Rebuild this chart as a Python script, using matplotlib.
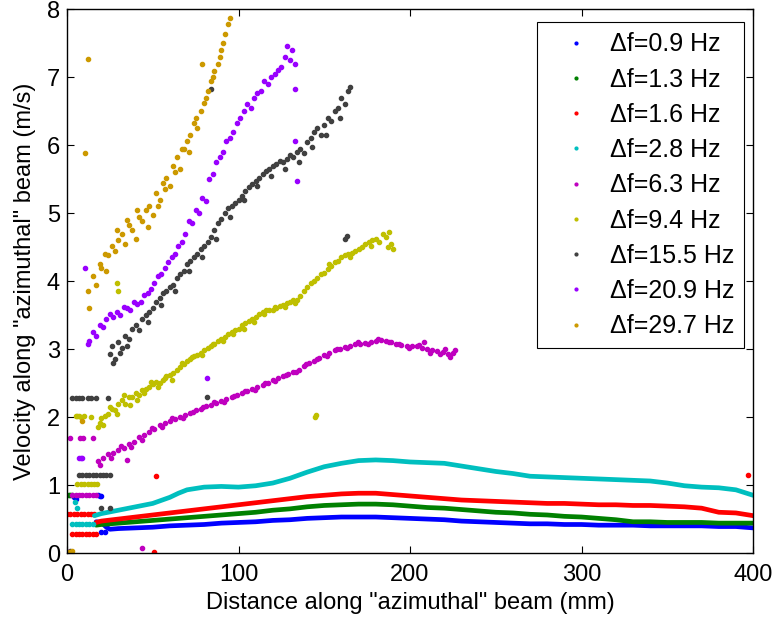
import numpy as np
import matplotlib
matplotlib.use("Agg")
import matplotlib.pyplot as plt

plt.rcParams['font.family'] = ['Liberation Sans', 'DejaVu Sans']

# ---- smooth low-frequency curves (mm, m/s) ----
b_x = [17, 20, 23, 25, 30, 40, 50, 60, 70, 80, 90, 100, 110, 120, 130, 140, 150, 160, 170, 180,
       190, 200, 210, 220, 230, 240, 250, 260, 270, 280, 290, 300, 310, 320, 330, 340, 350, 360,
       370, 380, 390, 400]
b_y = [0.46, 0.45, 0.38, 0.35, 0.36, 0.37, 0.38, 0.40, 0.41, 0.42, 0.44, 0.45, 0.46, 0.48, 0.49,
       0.51, 0.52, 0.53, 0.53, 0.53, 0.52, 0.51, 0.50, 0.49, 0.47, 0.46, 0.45, 0.44, 0.43, 0.43,
       0.42, 0.42, 0.41, 0.41, 0.41, 0.40, 0.40, 0.40, 0.40, 0.39, 0.39, 0.37]
b_px = [4, 5, 18, 19, 20, 20, 22]
b_py = [0.82, 0.80, 0.85, 0.84, 0.84, 0.31, 0.31]

g_x = [17, 20, 30, 40, 50, 60, 70, 80, 90, 100, 110, 120, 130, 140, 150, 160, 170, 180, 190,
       200, 210, 220, 230, 240, 250, 260, 270, 280, 290, 300, 310, 320, 330, 340, 350, 360, 370,
       380, 390, 400]
g_y = [0.41, 0.42, 0.44, 0.46, 0.48, 0.50, 0.52, 0.54, 0.56, 0.58, 0.60, 0.63, 0.65, 0.68, 0.70,
       0.71, 0.72, 0.72, 0.71, 0.69, 0.67, 0.66, 0.64, 0.62, 0.60, 0.59, 0.57, 0.56, 0.54, 0.53,
       0.51, 0.49, 0.46, 0.46, 0.45, 0.45, 0.45, 0.44, 0.44, 0.44]
g_px = [0, 1, 2, 3]
g_py = [0.85, 0.85, 0.85, 0.85]

r_x = [17, 20, 30, 40, 50, 60, 70, 80, 90, 100, 110, 120, 130, 140, 150, 160, 170, 180, 190,
       200, 210, 220, 230, 240, 250, 260, 270, 280, 290, 300, 310, 320, 330, 340, 350, 360, 370,
       380, 390, 400]
r_y = [0.45, 0.47, 0.50, 0.53, 0.56, 0.59, 0.62, 0.65, 0.68, 0.71, 0.74, 0.77, 0.80, 0.83, 0.85,
       0.87, 0.88, 0.88, 0.86, 0.84, 0.82, 0.80, 0.78, 0.77, 0.76, 0.75, 0.74, 0.73, 0.73, 0.72,
       0.71, 0.71, 0.70, 0.70, 0.69, 0.68, 0.66, 0.60, 0.59, 0.55]
r_px = [0, 2, 4, 6, 8, 10, 12, 14, 16, 3, 5, 7, 9, 11, 13, 15, 17, 52, 51, 397]
r_py = [0.57, 0.57, 0.57, 0.57, 0.57, 0.57, 0.57, 0.57, 0.57, 0.28, 0.28, 0.28, 0.28, 0.28,
        0.28, 0.28, 0.28, 1.14, 0.01, 1.15]

c_x = [16, 20, 30, 40, 50, 60, 65, 70, 80, 90, 100, 110, 120, 130, 140, 150, 160, 170, 180,
       190, 200, 210, 220, 230, 240, 250, 260, 270, 280, 290, 300, 310, 320, 330, 340, 350, 360,
       370, 380, 390, 400]
c_y = [0.55, 0.58, 0.63, 0.68, 0.73, 0.82, 0.88, 0.93, 0.97, 0.98, 0.97, 0.99, 1.03, 1.10, 1.19,
       1.27, 1.32, 1.36, 1.37, 1.36, 1.34, 1.33, 1.32, 1.28, 1.24, 1.20, 1.17, 1.13, 1.12, 1.11,
       1.10, 1.09, 1.08, 1.07, 1.06, 1.03, 0.99, 0.97, 0.96, 0.93, 0.85]
c_px = [3, 5, 7, 9, 11, 13, 15, 4.7, 5.8]
c_py = [0.43, 0.43, 0.43, 0.43, 0.43, 0.43, 0.43, 0.75, 0.66]

# ---- scattered higher-frequency series ----
m_x = [18, 21, 24, 27, 30, 33, 36, 39, 42, 45, 48, 51, 54, 57, 60, 63, 66, 69, 72, 75, 78, 81,
       84, 87, 90, 93, 96, 99, 102, 105, 108, 111, 114, 117, 120, 123, 126, 129, 132, 135, 138,
       141, 144, 147, 150, 153, 156, 159, 162, 165, 168, 171, 174, 177, 180, 183, 186, 189, 192,
       195, 198, 201, 204, 207, 210, 213, 216, 219, 222, 225,
       19.5, 25.5, 31.5, 37.5, 43.5, 49.5, 55.5, 61.5, 67.5, 73.5, 79.5, 85.5, 91.5, 97.5, 103.5,
       109.5, 115.5, 121.5, 127.5, 133.5, 139.5, 145.5, 151.5, 157.5, 163.5, 169.5, 175.5, 181.5,
       187.5, 193.5, 199.5, 205.5, 211.5, 217.5, 220.5, 223.5, 208, 226,
       3, 5, 7, 9, 11, 13, 15, 17, 1.7, 7.6, 9.3, 15, 35, 44]
m_y = [1.35, 1.40, 1.45, 1.47, 1.52, 1.55, 1.60, 1.63, 1.70, 1.74, 1.78, 1.83, 1.88, 1.91, 1.94,
       1.97, 2.00, 2.03, 2.06, 2.10, 2.12, 2.16, 2.18, 2.21, 2.24, 2.27, 2.30, 2.33, 2.35, 2.38,
       2.41, 2.44, 2.47, 2.50, 2.54, 2.57, 2.60, 2.63, 2.67, 2.70, 2.75, 2.79, 2.83, 2.87, 2.91,
       2.95, 2.98, 3.00, 3.03, 3.05, 3.07, 3.08, 3.09, 3.11, 3.12, 3.13, 3.12, 3.10, 3.07, 3.06,
       3.05, 3.05, 3.04, 3.02, 3.00, 2.98, 2.97, 2.96, 2.93, 2.95,
       1.30, 1.40, 1.58, 1.56, 1.66, 1.84, 1.85, 1.98, 1.98, 2.08, 2.15, 2.22, 2.22, 2.31, 2.38,
       2.40, 2.50, 2.53, 2.62, 2.66, 2.78, 2.85, 2.90, 3.00, 3.02, 3.10, 3.07, 3.15, 3.10, 3.08,
       3.02, 3.06, 2.95, 2.93, 3.00, 2.88, 3.10, 2.98,
       0.85, 0.85, 0.85, 0.85, 0.85, 0.85, 0.85, 0.85, 1.69, 1.69, 1.69, 1.69, 1.37, 0.07]

y_x = [18, 19, 20, 22, 24, 26, 28, 30, 32, 34, 36, 38, 40, 42, 44, 46, 48, 50, 52, 54, 56, 58,
       60, 62, 64, 66, 68, 70, 72, 74, 76, 78, 80, 82, 84, 86, 88, 90, 92, 94, 96, 98, 100, 102,
       104, 106, 108, 110, 112, 114, 116, 118, 120, 122, 124, 126, 128, 130, 132, 134, 136, 138,
       140, 142, 144, 146, 148, 150, 152, 154, 156, 158, 160, 162, 164, 166, 168, 170, 172, 174,
       176, 178, 180, 182, 184, 186, 187, 188, 189, 190,
       21, 25, 29, 33, 37, 41, 45, 49, 53, 57, 61, 67, 73, 79, 85, 91, 97, 103, 109, 115, 121,
       127, 133, 153, 165, 177,
       5, 6, 7, 8, 10, 14, 6, 8, 10, 12, 14, 16, 17.5, 29, 30, 144.5, 145]
y_y = [1.85, 1.92, 1.98, 2.02, 2.05, 2.12, 2.10, 2.20, 2.25, 2.20, 2.29, 2.30, 2.35, 2.33, 2.40,
       2.42, 2.45, 2.48, 2.52, 2.50, 2.54, 2.60, 2.62, 2.65, 2.70, 2.73, 2.78, 2.82, 2.85, 2.90,
       2.92, 2.95, 2.98, 3.01, 3.05, 3.08, 3.12, 3.15, 3.18, 3.22, 3.25, 3.28, 3.30, 3.35, 3.38,
       3.42, 3.45, 3.47, 3.52, 3.55, 3.57, 3.58, 3.57, 3.60, 3.63, 3.65, 3.68, 3.70, 3.72, 3.72,
       3.78, 3.85, 3.91, 3.97, 4.00, 4.05, 4.10, 4.12, 4.18, 4.22, 4.28, 4.30, 4.35, 4.38, 4.40,
       4.42, 4.45, 4.48, 4.50, 4.55, 4.58, 4.60, 4.62, 4.58, 4.70, 4.65, 4.50, 4.72, 4.55, 4.48,
       1.88, 2.15, 2.05, 2.32, 2.18, 2.25, 2.35, 2.52, 2.45, 2.58, 2.55, 2.80, 2.88, 2.92, 3.08,
       3.12, 3.22, 3.30, 3.40, 3.52, 3.62, 3.62, 3.68, 4.25, 4.35, 4.52,
       2.01, 2.01, 2.01, 2.00, 2.01, 2.00, 1.01, 1.01, 1.01, 1.01, 1.01, 1.01, 1.01, 3.98, 3.85,
       2.00, 2.03]

k_x = [25, 26, 28, 30, 32, 34, 36, 38, 40, 42, 44, 46, 48, 50, 52, 54, 56, 58, 60, 62, 64, 66,
       68, 70, 72, 74, 76, 78, 80, 82, 84, 86, 88, 90, 92, 94, 96, 98, 100, 102, 104, 106, 108,
       110, 112, 114, 116, 118, 120, 122, 124, 126, 128, 130, 132, 134, 136, 138, 140, 142, 144,
       146, 148, 150, 152, 154, 156, 158, 160, 162, 164, 165,
       27, 31, 35, 47, 55, 63, 71, 79, 87, 95, 103, 111, 119, 127, 135, 143, 151, 159,
       3, 5, 7, 9, 12, 14, 17, 24, 7, 9, 11, 13, 15, 17, 19, 21, 23, 25, 20, 25, 2,
       81.5, 162, 163, 84]
k_y = [2.93, 3.05, 2.85, 3.10, 3.02, 3.20, 3.15, 3.30, 3.35, 3.28, 3.45, 3.50, 3.55, 3.61, 3.70,
       3.75, 3.82, 3.85, 3.91, 3.95, 4.05, 4.10, 4.15, 4.25, 4.30, 4.35, 4.40, 4.48, 4.52, 4.58,
       4.65, 4.75, 4.85, 4.92, 5.00, 5.08, 5.10, 5.15, 5.20, 5.25, 5.32, 5.38, 5.43, 5.48, 5.52,
       5.58, 5.62, 5.65, 5.70, 5.72, 5.77, 5.75, 5.80, 5.85, 5.82, 5.90, 5.95, 5.88, 6.05, 6.10,
       6.20, 6.26, 6.15, 6.30, 6.40, 6.35, 6.50, 6.55, 6.70, 6.60, 6.80, 6.85,
       2.80, 2.95, 3.05, 3.40, 3.65, 3.85, 4.15, 4.35, 4.62, 4.95, 5.20, 5.40, 5.55, 5.65, 5.75,
       5.98, 6.15, 6.40,
       2.28, 2.28, 2.28, 2.28, 2.28, 2.28, 2.28, 2.28, 1.15, 1.15, 1.15, 1.15, 1.15, 1.15, 1.15,
       1.15, 1.15, 1.15, 0.66, 0.66, 0.03,
       2.29, 4.62, 4.66, 6.83]

p_x = [12, 13, 15, 17, 19, 21, 23, 25, 27, 29, 31, 33, 35, 37, 39, 41, 43, 45, 47, 49, 51, 53,
       55, 57, 59, 61, 63, 65, 67, 69, 71, 73, 75, 77, 79, 81, 83, 85, 87, 89, 91, 93, 95, 97,
       99, 101, 103, 105, 107, 109, 111, 113, 115, 117, 119, 121, 123, 125, 127, 128, 130, 131,
       133,
       10.5, 133, 134, 133, 81.5, 7, 8, 9, 0.5]
p_y = [3.08, 3.12, 3.25, 3.20, 3.35, 3.32, 3.45, 3.52, 3.47, 3.55, 3.50, 3.62, 3.61, 3.58, 3.70,
       3.67, 3.69, 3.80, 3.82, 3.88, 3.97, 4.08, 4.11, 4.20, 4.28, 4.35, 4.40, 4.52, 4.57, 4.70,
       4.89, 4.85, 5.04, 5.00, 5.23, 5.18, 5.50, 5.58, 5.75, 5.82, 5.90, 6.06, 6.10, 6.20, 6.33,
       6.40, 6.50, 6.60, 6.55, 6.70, 6.77, 6.80, 6.95, 6.90, 7.00, 7.05, 7.10, 7.15, 7.30, 7.46,
       7.25, 7.40, 7.20,
       4.19, 6.83, 5.48, 6.06, 2.57, 1.40, 1.40, 1.40, 0.02]

o_x = [12, 13, 15, 17, 19, 20, 22, 24, 26, 28, 30, 32, 34, 36, 38, 40, 42, 44, 46, 48, 50, 52,
       54, 56, 58, 60, 62, 64, 66, 68, 70, 72, 74, 76, 78, 80, 82, 84, 86, 88, 90, 92, 94, 95,
       23, 29, 35, 41, 47, 53, 57, 63, 67, 71, 75, 79, 81, 85, 89, 91,
       10.5, 12, 8.7, 1, 3]
o_y = [3.86, 3.61, 4.08, 3.95, 4.25, 4.19, 4.40, 4.38, 4.52, 4.45, 4.60, 4.70, 4.55, 4.82, 4.75,
       4.62, 4.95, 4.88, 5.04, 5.10, 4.98, 5.29, 5.20, 5.45, 5.52, 5.40, 5.70, 5.82, 5.65, 5.95,
       6.06, 6.15, 6.33, 6.25, 6.50, 6.62, 6.80, 6.95, 7.09, 7.20, 7.40, 7.63, 7.78, 7.87,
       4.15, 4.75, 4.90, 5.05, 4.80, 5.10, 5.35, 5.60, 5.95, 5.90, 6.40, 7.20, 6.70, 7.00, 7.30,
       7.50,
       5.88, 7.27, 1.95, 0.02, 0.03]

labels = ['Δf=0.9 Hz', 'Δf=1.3 Hz', 'Δf=1.6 Hz', 'Δf=2.8 Hz', 'Δf=6.3 Hz', 'Δf=9.4 Hz',
          'Δf=15.5 Hz', 'Δf=20.9 Hz', 'Δf=29.7 Hz']
colors = ['#0000ff', '#008000', '#ff0000', '#00bfbf', '#bf00bf', '#bfbf00', '#404040',
          '#9900ff', '#cc9900']

fig = plt.figure(figsize=(7.77, 6.2), dpi=100)
ax = fig.add_axes([0.0862, 0.108, 0.883, 0.877])

curves = [(b_x, b_y, b_px, b_py), (g_x, g_y, g_px, g_py), (r_x, r_y, r_px, r_py),
          (c_x, c_y, c_px, c_py)]
for i, (cx, cy, px, py) in enumerate(curves):
    ax.plot(cx, cy, '-', color=colors[i], lw=3.4, solid_capstyle='round')
    ax.plot(px, py, '.', color=colors[i], ms=6, ls='none')
    ax.plot([], [], '.', color=colors[i], ms=4, ls='none', label=labels[i])

scat = [(m_x, m_y), (y_x, y_y), (k_x, k_y), (p_x, p_y), (o_x, o_y)]
for j, (sx, sy) in enumerate(scat):
    i = j + 4
    ax.plot(sx, sy, '.', color=colors[i], ms=6, ls='none')
    ax.plot([], [], '.', color=colors[i], ms=4, ls='none', label=labels[i])

ax.set_xlim(0, 400)
ax.set_ylim(0, 8)
ax.set_xticks([0, 100, 200, 300, 400])
ax.set_yticks(range(9))
ax.tick_params(direction='in', top=True, right=True, labelsize=17, length=5, width=0.8)
ax.tick_params(axis='x', pad=8)
ax.tick_params(axis='y', pad=5)
for s in ax.spines.values():
    s.set_linewidth(1.0)
ax.set_xlabel('Distance along "azimuthal" beam (mm)', fontsize=17, labelpad=4)
ax.set_ylabel('Velocity along "azimuthal" beam (m/s)', fontsize=17, labelpad=8)

leg = ax.legend(loc='upper right', bbox_to_anchor=(0.987, 0.976), borderaxespad=0,
                fontsize=18, fancybox=False, framealpha=1, edgecolor='black',
                handlelength=2.3, handletextpad=0.2, labelspacing=0.45, borderpad=0.4)
leg.get_frame().set_linewidth(0.8)

fig.savefig('out.png', dpi=100)
